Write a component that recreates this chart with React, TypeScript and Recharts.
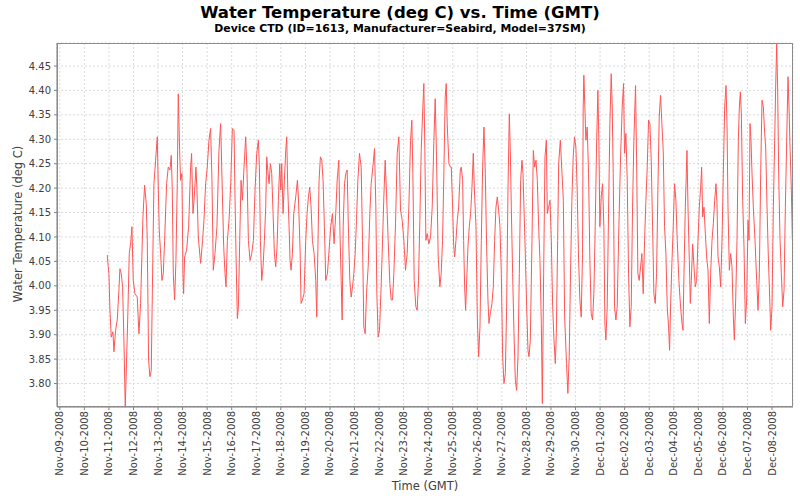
import React from 'react';
import { LineChart, Line, XAxis, YAxis, CartesianGrid } from 'recharts';

// Tick labels (one per day, day 0 = Nov-09-2008 00:00 GMT)
const dateLabels = [
  'Nov-09-2008', 'Nov-10-2008', 'Nov-11-2008', 'Nov-12-2008', 'Nov-13-2008', 'Nov-14-2008',
  'Nov-15-2008', 'Nov-16-2008', 'Nov-17-2008', 'Nov-18-2008', 'Nov-19-2008', 'Nov-20-2008',
  'Nov-21-2008', 'Nov-22-2008', 'Nov-23-2008', 'Nov-24-2008', 'Nov-25-2008', 'Nov-26-2008',
  'Nov-27-2008', 'Nov-28-2008', 'Nov-29-2008', 'Nov-30-2008', 'Dec-01-2008', 'Dec-02-2008',
  'Dec-03-2008', 'Dec-04-2008', 'Dec-05-2008', 'Dec-06-2008', 'Dec-07-2008', 'Dec-08-2008',
];
const dayTicks = dateLabels.map((_, i) => i);
const tempTicks = [3.8, 3.85, 3.9, 3.95, 4.0, 4.05, 4.1, 4.15, 4.2, 4.25, 4.3, 4.35, 4.4, 4.45];
const dayDomain = [-0.114, 29.855];
const tempDomain = [3.752, 4.497];

// Time (days since Nov-09-2008) and water temperature (deg C)
const nov11Days = [1.932,1.973,2.000,2.041,2.095,2.163,2.204,2.272,2.339,2.407,2.448,2.502,2.557,2.611,2.665,2.720,2.774,2.828,2.883,2.937,2.991,3.059,3.154,3.222,3.290,3.385,3.453,3.521,3.561,3.616,3.670,3.724,3.779,3.833,3.901,3.969,4.010,4.050,4.105,4.159,4.213,4.268,4.349,4.417,4.485,4.539,4.580,4.621,4.675,4.729,4.783,4.824,4.879,4.919,4.973,5.014,5.042,5.082,5.164,5.245,5.327,5.367,5.422,5.476,5.544,5.585,5.639,5.734,5.815,5.870,5.938,6.005,6.073,6.141,6.196,6.250,6.318,6.399,6.481,6.549];
const nov11Temps = [4.063,4.039,4.025,3.950,3.895,3.906,3.865,3.909,3.930,3.991,4.035,4.025,3.998,3.889,3.752,3.848,3.950,4.066,4.086,4.121,4.011,3.984,3.977,3.902,3.964,4.141,4.206,4.168,4.093,3.848,3.814,3.827,4.025,4.209,4.257,4.305,4.202,4.114,4.066,4.011,4.025,4.093,4.209,4.243,4.237,4.267,4.196,4.025,3.971,4.052,4.209,4.393,4.277,4.216,4.230,4.025,3.984,4.059,4.073,4.121,4.243,4.271,4.148,4.182,4.243,4.196,4.100,4.046,4.093,4.134,4.209,4.243,4.298,4.322,4.216,4.032,4.066,4.121,4.277,4.332];

const nov15Days = [6.620,6.674,6.728,6.769,6.823,6.891,6.959,7.027,7.095,7.136,7.190,7.231,7.272,7.326,7.380,7.434,7.502,7.570,7.625,7.679,7.747,7.815,7.883,7.950,8.018,8.086,8.127,8.168,8.222,8.276,8.331,8.385,8.426,8.480,8.521,8.575,8.629,8.684,8.738,8.792,8.847,8.901,8.955,8.996,9.037,9.091,9.145,9.200,9.240,9.281,9.335,9.376,9.417,9.471,9.526,9.607,9.675,9.716,9.784,9.824,9.879,9.946,10.014,10.069,10.123,10.177,10.232,10.286,10.354,10.422,10.462,10.503,10.557,10.612,10.666,10.720,10.775,10.829,10.897,10.965,11.033,11.101,11.168,11.236];
const nov15Temps = [4.189,4.080,4.025,3.998,4.093,4.134,4.209,4.322,4.318,4.175,4.025,3.933,3.957,4.093,4.216,4.175,4.243,4.305,4.230,4.093,4.052,4.066,4.093,4.196,4.271,4.298,4.243,4.093,4.011,4.039,4.093,4.161,4.264,4.230,4.209,4.250,4.230,4.148,4.066,4.039,4.080,4.175,4.250,4.196,4.250,4.148,4.216,4.277,4.305,4.202,4.121,4.052,4.032,4.066,4.148,4.182,4.216,4.182,4.073,3.964,3.971,3.984,4.093,4.148,4.182,4.202,4.161,4.093,4.066,4.011,3.936,4.059,4.216,4.264,4.257,4.216,4.121,4.011,4.025,4.073,4.121,4.148,4.086,4.148];

const nov20Days = [11.294,11.362,11.403,11.457,11.498,11.538,11.593,11.647,11.701,11.756,11.810,11.864,11.919,11.973,12.027,12.081,12.136,12.204,12.272,12.326,12.380,12.435,12.489,12.557,12.625,12.679,12.747,12.815,12.869,12.910,12.964,13.018,13.073,13.127,13.195,13.249,13.303,13.371,13.439,13.494,13.548,13.602,13.670,13.738,13.806,13.874,13.942,14.010,14.077,14.145,14.213,14.281,14.335,14.376,14.430,14.498,14.553,14.607,14.661,14.716,14.783,14.824,14.865,14.906,14.960,15.028,15.096,15.164,15.232,15.286,15.340,15.408,15.476,15.530,15.585,15.639,15.693,15.734,15.775,15.843,15.910];
const nov20Temps = [4.216,4.257,4.121,4.011,3.930,4.121,4.209,4.230,4.237,4.107,4.011,3.977,3.998,4.025,4.066,4.134,4.216,4.271,4.243,4.093,3.916,3.902,3.984,4.039,4.148,4.209,4.243,4.281,4.161,3.984,3.895,3.909,3.984,4.066,4.182,4.257,4.189,4.093,4.005,3.971,3.971,4.025,4.127,4.271,4.305,4.155,4.134,4.093,4.032,4.066,4.161,4.298,4.339,4.230,4.011,3.957,3.950,4.011,4.134,4.277,4.366,4.414,4.277,4.093,4.107,4.086,4.100,4.161,4.298,4.383,4.264,4.059,3.998,4.025,4.093,4.230,4.387,4.414,4.332,4.250,4.243];

const nov24Days = [15.941,15.995,16.036,16.077,16.131,16.185,16.240,16.308,16.348,16.403,16.443,16.484,16.525,16.579,16.620,16.674,16.728,16.783,16.837,16.878,16.946,17.000,17.054,17.109,17.163,17.217,17.272,17.326,17.380,17.434,17.475,17.530,17.597,17.652,17.706,17.760,17.815,17.869,17.923,17.978,18.032,18.086,18.141,18.195,18.249,18.303,18.344,18.385,18.439,18.494,18.548,18.602,18.657,18.711,18.765,18.819,18.860,18.901,18.955,19.010,19.064,19.105,19.159,19.227,19.281,19.335,19.390,19.444,19.498,19.553,19.607,19.648,19.702,19.756,19.811,19.851,19.906,19.960,20.014,20.069,20.123,20.177,20.218,20.272,20.313,20.381,20.449,20.503,20.557];
const nov24Temps = [4.243,4.161,4.086,4.059,4.093,4.134,4.161,4.237,4.243,4.216,4.093,3.998,3.950,4.025,4.080,4.121,4.148,4.202,4.271,4.202,4.121,3.936,3.855,3.916,4.093,4.243,4.325,4.230,4.080,3.971,3.923,3.943,3.964,3.998,4.093,4.161,4.182,4.155,4.121,4.025,3.855,3.800,3.820,3.957,4.196,4.352,4.277,4.161,4.025,3.902,3.807,3.786,3.855,4.025,4.216,4.257,4.230,4.161,4.066,3.957,3.868,3.855,3.889,4.093,4.277,4.243,4.257,4.216,4.121,4.052,3.923,3.759,4.025,4.264,4.298,4.148,4.161,4.175,4.093,3.957,3.889,3.841,3.902,4.093,4.250,4.298,4.230,4.175,3.936];

const nov29Days = [20.633,20.688,20.742,20.796,20.851,20.905,20.959,21.014,21.068,21.122,21.177,21.231,21.285,21.312,21.339,21.380,21.421,21.475,21.530,21.584,21.638,21.692,21.747,21.801,21.855,21.910,21.950,21.991,22.046,22.100,22.154,22.195,22.236,22.290,22.344,22.399,22.453,22.494,22.534,22.589,22.643,22.697,22.752,22.833,22.901,22.955,22.996,23.050,23.105,23.159,23.213,23.268,23.322,23.376,23.444,23.485,23.539,23.593,23.648,23.702,23.756,23.811,23.865,23.919,23.974,24.028,24.082,24.137,24.191,24.245,24.300,24.354,24.408,24.462,24.517,24.571,24.625,24.680,24.734,24.788,24.829,24.870,24.924,24.978,25.033,25.087,25.141,25.209,25.277];
const nov29Temps = [3.841,3.780,3.855,4.025,4.175,4.264,4.305,4.284,4.196,4.059,3.971,3.936,4.066,4.366,4.431,4.366,4.298,4.325,4.230,4.052,3.943,3.930,3.984,4.121,4.284,4.400,4.298,4.121,4.182,4.209,4.121,3.923,3.889,3.957,4.148,4.332,4.434,4.366,4.230,3.957,3.930,3.957,4.093,4.264,4.366,4.414,4.271,4.312,4.216,4.025,3.916,3.957,4.161,4.298,4.410,4.264,4.025,4.011,4.039,4.066,3.984,4.093,4.175,4.243,4.339,4.332,4.257,4.121,3.984,3.964,4.025,4.196,4.346,4.390,4.332,4.277,4.121,4.066,3.957,3.916,3.868,3.957,4.046,4.121,4.209,4.175,4.093,4.011,3.957];

const dec04Days = [25.335,25.375,25.416,25.470,25.511,25.538,25.579,25.633,25.674,25.715,25.769,25.823,25.878,25.932,25.986,26.041,26.095,26.136,26.177,26.231,26.285,26.339,26.394,26.448,26.502,26.557,26.611,26.665,26.720,26.760,26.801,26.855,26.910,26.964,27.018,27.073,27.127,27.168,27.208,27.263,27.317,27.371,27.426,27.466,27.521,27.575,27.629,27.670,27.711,27.752,27.806,27.860,27.914,27.969,28.023,28.064,28.105,28.145,28.186,28.240,28.308,28.376,28.430,28.485,28.539,28.593,28.648,28.702,28.743,28.797,28.851,28.906,28.946,29.001,29.055,29.109,29.150,29.191,29.232,29.272,29.327,29.381,29.435,29.490,29.544,29.598,29.652,29.693,29.734,29.788,29.829];
const dec04Temps = [3.923,3.909,4.025,4.161,4.230,4.277,4.161,4.052,3.964,4.011,4.086,4.039,3.998,4.011,4.093,4.161,4.202,4.243,4.141,4.161,4.107,4.059,4.032,3.923,4.025,4.093,4.127,4.175,4.209,4.168,4.059,4.039,3.998,4.093,4.230,4.366,4.410,4.332,4.161,4.032,4.066,4.039,3.936,3.889,3.971,4.093,4.298,4.366,4.397,4.352,4.175,4.080,3.923,3.971,4.134,4.093,4.332,4.298,4.230,4.161,4.093,4.011,3.950,4.025,4.230,4.380,4.366,4.312,4.284,4.161,4.059,3.977,3.909,3.957,4.161,4.298,4.407,4.496,4.400,4.230,4.093,4.025,3.957,3.991,4.161,4.298,4.428,4.366,4.284,4.196,4.093];

const allDays = [...nov11Days, ...nov15Days, ...nov20Days, ...nov24Days, ...nov29Days, ...dec04Days];
const allTemps = [...nov11Temps, ...nov15Temps, ...nov20Temps, ...nov24Temps, ...nov29Temps, ...dec04Temps];
const data = allDays.map((t, i) => ({ t, temp: allTemps[i] }));

const AXIS_COLOR = '#404040';
const FONT = '"DejaVu Sans", "Noto Sans", sans-serif';

function DateTick(props: any) {
  const { x, y, payload } = props;
  const label = dateLabels[Math.round(payload.value)] ?? '';
  return (
    <text
      x={x}
      y={y}
      transform={`rotate(-90, ${x}, ${y})`}
      textAnchor="end"
      dominantBaseline="central"
      fontSize={10}
      fontFamily={FONT}
      fill={AXIS_COLOR}
    >
      {label}
    </text>
  );
}

export default function App() {
  const W = 800;
  const H = 500;
  const plotLeft = 57;
  const plotTop = 43;
  const plotRight = 793;
  const plotBottom = 407;
  return (
    <div style={{ position: 'absolute', left: 0, top: 0, width: W, height: H, background: '#ffffff' }}>
      <LineChart
        width={W}
        height={H}
        data={data}
        margin={{ top: plotTop, right: W - plotRight, left: 0, bottom: 0 }}
      >
        <CartesianGrid stroke="#dadada" strokeDasharray="2 2" strokeWidth={1} />
        <XAxis
          type="number"
          dataKey="t"
          domain={dayDomain}
          ticks={dayTicks}
          allowDataOverflow
          height={H - plotBottom}
          tick={<DateTick />}
          tickSize={3}
          tickMargin={1}
          interval={0}
          stroke="#808080"
        />
        <YAxis
          type="number"
          domain={tempDomain}
          ticks={tempTicks}
          allowDataOverflow
          width={plotLeft}
          tickFormatter={(v: number) => v.toFixed(2)}
          tick={{ fontSize: 10, fill: AXIS_COLOR, fontFamily: FONT }}
          tickSize={3}
          tickMargin={3}
          interval={0}
          stroke="#808080"
        />
        <Line
          type="linear"
          dataKey="temp"
          stroke="#ff5555"
          strokeWidth={1}
          dot={false}
          activeDot={false}
          isAnimationActive={false}
        />
      </LineChart>
      <svg
        width={W}
        height={H}
        style={{ position: 'absolute', left: 0, top: 0, pointerEvents: 'none' }}
      >
        <rect
          x={plotLeft + 0.5}
          y={plotTop + 0.5}
          width={plotRight - plotLeft - 1}
          height={plotBottom - plotTop - 1}
          fill="none"
          stroke="#8c8c8c"
          strokeWidth={1}
        />
        <text x={400} y={18} textAnchor="middle" fontFamily={FONT} fontWeight="bold" fontSize={16.5} fill="#000">
          Water Temperature (deg C) vs. Time (GMT)
        </text>
        <text x={400} y={32} textAnchor="middle" fontFamily={FONT} fontWeight="bold" fontSize={10.9} fill="#000">
          Device CTD (ID=1613, Manufacturer=Seabird, Model=37SM)
        </text>
        <text
          x={18}
          y={224}
          transform="rotate(-90, 18, 224)"
          textAnchor="middle"
          dominantBaseline="central"
          fontFamily={FONT}
          fontSize={11.5}
          fill={AXIS_COLOR}
        >
          Water Temperature (deg C)
        </text>
        <text x={425} y={490} textAnchor="middle" fontFamily={FONT} fontSize={11.5} fill={AXIS_COLOR}>
          Time (GMT)
        </text>
      </svg>
    </div>
  );
}
